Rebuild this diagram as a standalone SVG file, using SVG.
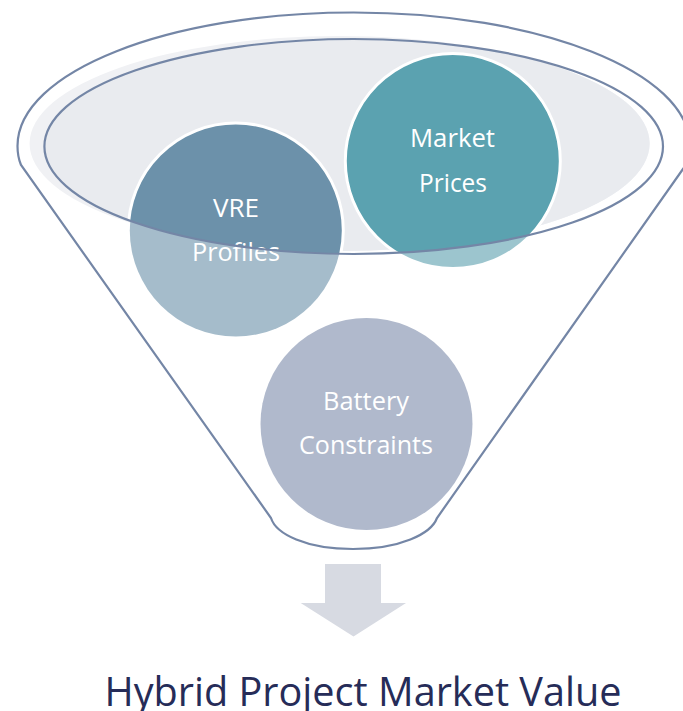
<svg xmlns="http://www.w3.org/2000/svg" width="683" height="711" viewBox="0 0 683 711">
<style>
.outline{fill:none;stroke:#7486A6;stroke-width:2.2}
.lbl{font-family:"Open Sans","Noto Sans","Liberation Sans",sans-serif;font-size:26px;fill:#fff;text-anchor:middle}
.ring{stroke:#fff;stroke-width:3}
</style>
<defs>
<clipPath id="inner"><ellipse cx="353.7" cy="146.5" rx="309.3" ry="107.5"/></clipPath>
</defs>
<rect width="683" height="711" fill="#fff"/>
<g id="funnel">
<path class="outline" d="M271 518 C276 534 306 549 353 549 C400 549 431 534 437 518 L683 169 C688 162 690 154 690 146 C690 72 539 12.500 353.700 12.500 C168 12.500 17.500 72 17.500 146 C17.500 153 18.500 159 21 165 Z"/>
<ellipse cx="339.600" cy="143.500" rx="310" ry="107.500" fill="#F0F1F4"/>
<ellipse cx="339.600" cy="143.500" rx="310" ry="107.500" fill="#E9EBEF" clip-path="url(#inner)"/>
</g>
<g id="vre">
<circle cx="235.800" cy="230.500" r="106" fill="#A5BCCB"/>
<circle cx="235.800" cy="230.500" r="107.500" fill="#6C91AA" class="ring" clip-path="url(#inner)"/>
</g>
<g id="market">
<circle cx="452.800" cy="161" r="106" fill="#9CC5CE"/>
<circle cx="452.800" cy="161" r="107.500" fill="#5BA2B0" class="ring" clip-path="url(#inner)"/>
<text class="lbl" x="452.500" y="147" textLength="85" lengthAdjust="spacingAndGlyphs">Market</text>
<text class="lbl" x="453" y="192" textLength="68" lengthAdjust="spacingAndGlyphs">Prices</text>
</g>
<g id="battery">
<circle cx="366.500" cy="424" r="106" fill="#B0B9CC"/>
<text class="lbl" x="366" y="410" textLength="86" lengthAdjust="spacingAndGlyphs">Battery</text>
<text class="lbl" x="366" y="454" textLength="134" lengthAdjust="spacingAndGlyphs">Constraints</text>
</g>
<g id="vre-label">
<text class="lbl" x="236" y="217" textLength="46" lengthAdjust="spacingAndGlyphs">VRE</text>
<text class="lbl" x="236" y="261" textLength="88" lengthAdjust="spacingAndGlyphs">Profiles</text>
</g>
<g id="connectors">
<ellipse class="outline" cx="353.700" cy="146.500" rx="309.300" ry="107.500"/>
<path fill="#D7DAE2" d="M325 564H381V603H406L353.500 636.500L300.700 603H325Z"/>
</g>
<g id="result">
<text x="363" y="706" textLength="517" lengthAdjust="spacingAndGlyphs" text-anchor="middle" font-family="'Open Sans','Noto Sans','Liberation Sans',sans-serif" font-size="40" fill="#262C58">Hybrid Project Market Value</text>
</g>
</svg>
